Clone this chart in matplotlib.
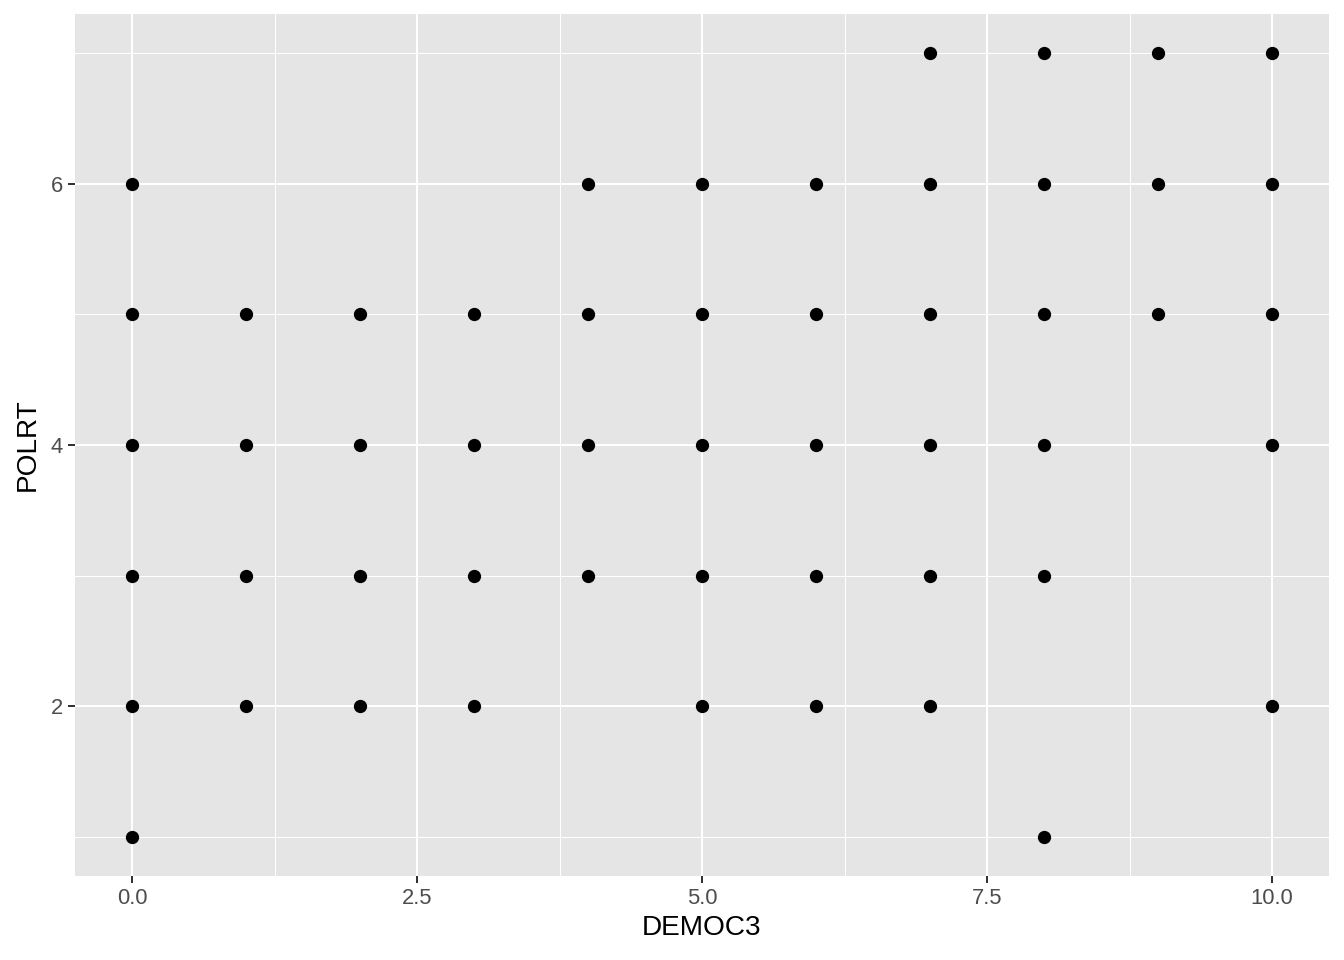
import matplotlib
matplotlib.use("Agg")
import matplotlib.pyplot as plt
from matplotlib.ticker import FixedLocator

plt.rcParams['font.family'] = ['Liberation Sans', 'DejaVu Sans']

# DEMOC3 / POLRT pairs
democ3 = [0, 0, 0, 0, 0, 0,
          1, 1, 1, 1,
          2, 2, 2, 2,
          3, 3, 3, 3,
          4, 4, 4, 4,
          5, 5, 5, 5, 5,
          6, 6, 6, 6, 6,
          7, 7, 7, 7, 7, 7,
          8, 8, 8, 8, 8, 8,
          9, 9, 9,
          10, 10, 10, 10, 10]
polrt = [1, 2, 3, 4, 5, 6,
         2, 3, 4, 5,
         2, 3, 4, 5,
         2, 3, 4, 5,
         3, 4, 5, 6,
         2, 3, 4, 5, 6,
         2, 3, 4, 5, 6,
         2, 3, 4, 5, 6, 7,
         1, 3, 4, 5, 6, 7,
         5, 6, 7,
         2, 4, 5, 6, 7]

x_ticks = [0, 2.5, 5, 7.5, 10]
x_labels = ['0.0', '2.5', '5.0', '7.5', '10.0']
y_ticks = [2, 4, 6]

fig = plt.figure(figsize=(1344 / 144, 960 / 144), dpi=144)
ax = fig.add_axes([75 / 1344, (960 - 876) / 960, (1329 - 75) / 1344, (876 - 14) / 960])
ax.set_facecolor('#E5E5E5')

ax.scatter(democ3, polrt, s=44, c='black', linewidths=0, zorder=3)

ax.set_xlim(-0.5, 10.5)
ax.set_ylim(0.7, 7.3)
ax.set_xticks(x_ticks)
ax.set_xticklabels(x_labels)
ax.set_yticks(y_ticks)
ax.xaxis.set_minor_locator(FixedLocator([1.25, 3.75, 6.25, 8.75]))
ax.yaxis.set_minor_locator(FixedLocator([1, 3, 5, 7]))

ax.grid(which='major', color='white', linewidth=1.0, zorder=1)
ax.grid(which='minor', color='white', linewidth=0.5, zorder=1)
ax.set_axisbelow(True)
for sp in ax.spines.values():
    sp.set_visible(False)

ax.tick_params(which='major', length=3.5, width=1.0, color='#333333',
               labelcolor='#4D4D4D', labelsize=11, pad=2.5)
ax.tick_params(which='minor', length=0)

ax.set_xlabel('DEMOC3', fontsize=14, labelpad=3)
ax.set_ylabel('POLRT', fontsize=14, labelpad=5)

fig.savefig('out.png', dpi=144)
